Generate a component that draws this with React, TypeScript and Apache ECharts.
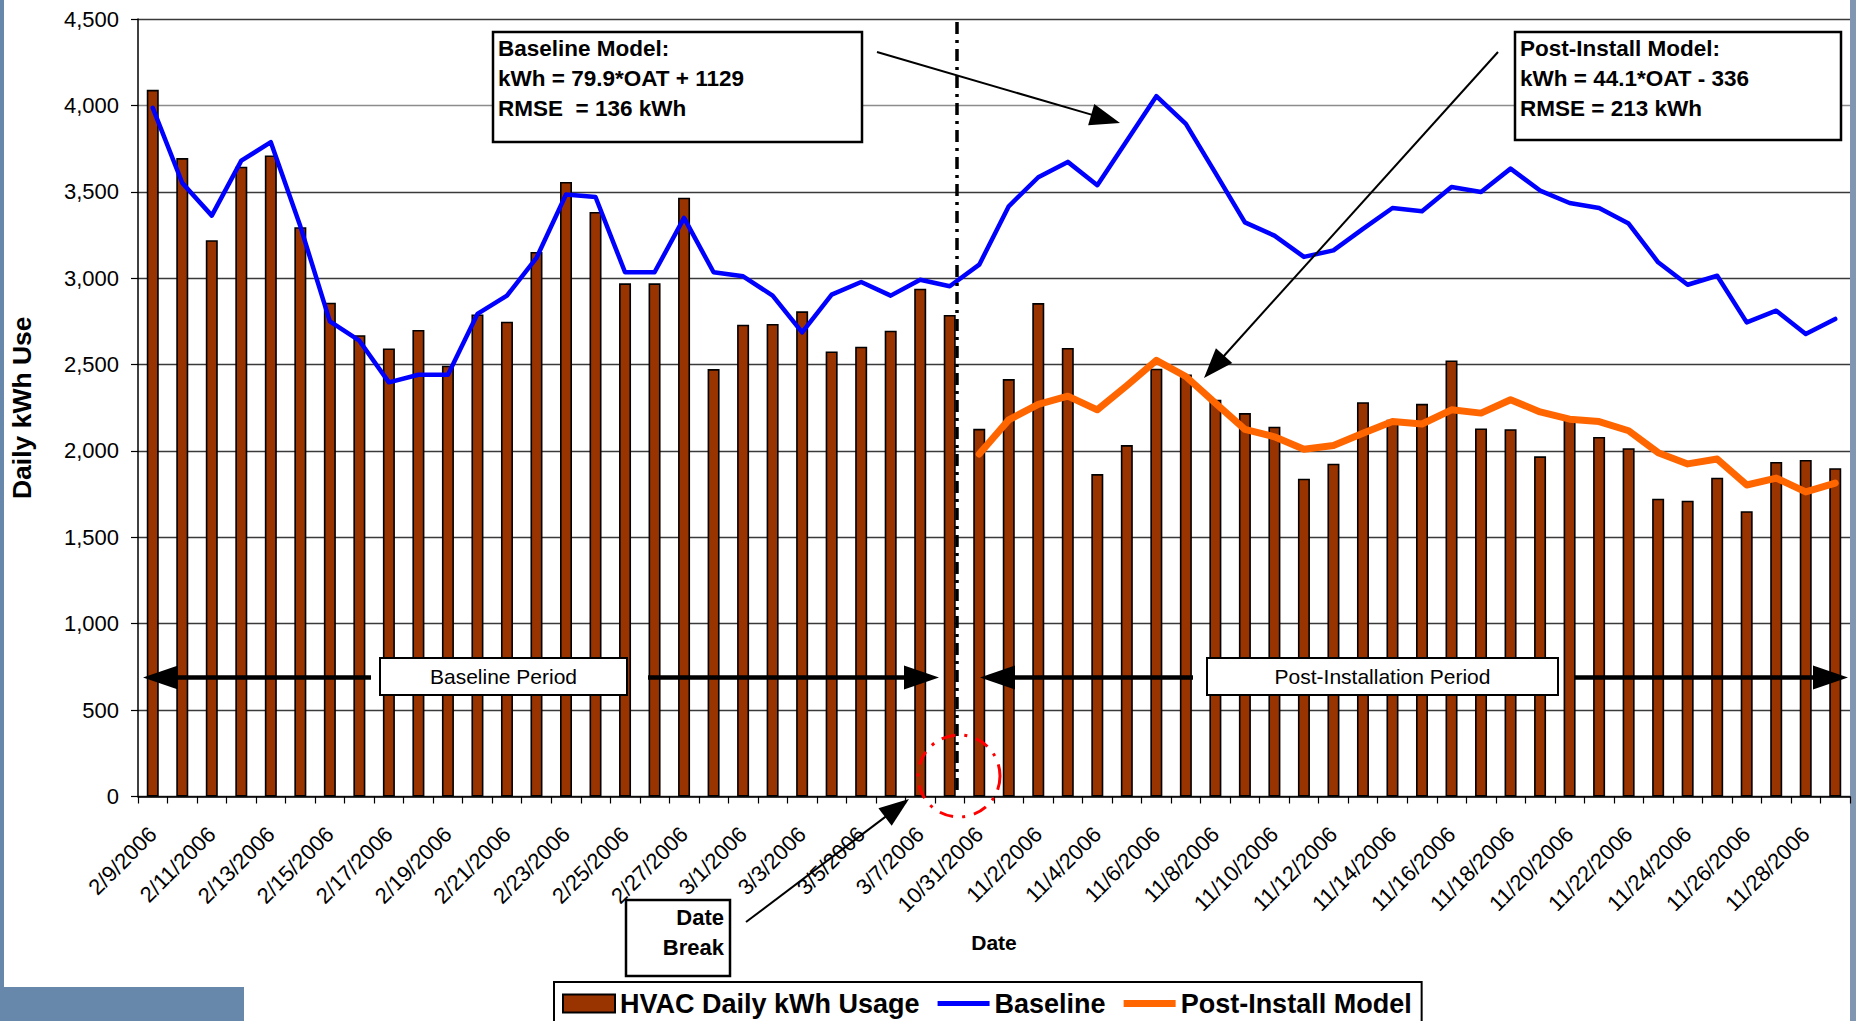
import React, { useEffect, useRef } from "react";
import * as echarts from "echarts";

const categories = [
  "2/9/2006", "2/10/2006", "2/11/2006", "2/12/2006", "2/13/2006", "2/14/2006", "2/15/2006", "2/16/2006",
  "2/17/2006", "2/18/2006", "2/19/2006", "2/20/2006", "2/21/2006", "2/22/2006", "2/23/2006", "2/24/2006",
  "2/25/2006", "2/26/2006", "2/27/2006", "2/28/2006", "3/1/2006", "3/2/2006", "3/3/2006", "3/4/2006",
  "3/5/2006", "3/6/2006", "3/7/2006", "3/8/2006",
  "10/31/2006", "11/1/2006", "11/2/2006", "11/3/2006", "11/4/2006", "11/5/2006", "11/6/2006", "11/7/2006",
  "11/8/2006", "11/9/2006", "11/10/2006", "11/11/2006", "11/12/2006", "11/13/2006", "11/14/2006", "11/15/2006",
  "11/16/2006", "11/17/2006", "11/18/2006", "11/19/2006", "11/20/2006", "11/21/2006", "11/22/2006", "11/23/2006",
  "11/24/2006", "11/25/2006", "11/26/2006", "11/27/2006", "11/28/2006", "11/29/2006",
];

const hvacUsage = [
  4090, 3695, 3220, 3645, 3710, 3295, 2858, 2670, 2593, 2700, 2493, 2790, 2748, 3152, 3557, 3383,
  2970, 2970, 3466, 2474, 2731, 2735, 2808, 2576, 2603, 2696, 2939, 2787,
  2128, 2416, 2856, 2596, 1866, 2034, 2476, 2442, 2296, 2219, 2140, 1839, 1926, 2282, 2181, 2273,
  2524, 2130, 2126, 1969, 2180, 2081, 2016, 1724, 1712, 1845, 1651, 1936, 1948, 1900,
];

const baselineModel = [
  3986, 3551, 3362, 3680, 3787, 3300, 2750, 2638, 2397, 2441, 2441, 2793, 2899, 3117, 3484, 3470,
  3034, 3034, 3349, 3034, 3011, 2899, 2686, 2905, 2978, 2899, 2991, 2953,
  3078, 3416, 3584, 3673, 3538, 3795, 4053, 3893, 3609, 3323, 3246, 3123, 3161, 3285, 3406, 3387,
  3528, 3499, 3634, 3507, 3435, 3406, 3316, 3092, 2962, 3014, 2744, 2812, 2677, 2764,
];

const postInstallModel = [
  null, null, null, null, null, null, null, null, null, null, null, null, null, null, null, null,
  null, null, null, null, null, null, null, null, null, null, null, null,
  1982, 2180, 2270, 2317, 2238, 2378, 2524, 2431, 2277, 2125, 2082, 2010, 2032, 2103, 2170, 2156,
  2238, 2219, 2296, 2226, 2184, 2170, 2117, 1990, 1925, 1953, 1803, 1843, 1763, 1814,
];

const seriesNames = ["HVAC Daily kWh Usage", "Baseline", "Post-Install Model"];
const yMin = 0;
const yMax = 4500;
const yStep = 500;

const baselineNote = ["Baseline Model:", "kWh = 79.9*OAT + 1129", "RMSE  = 136 kWh"];
const postNote = ["Post-Install Model:", "kWh = 44.1*OAT - 336", "RMSE = 213 kWh"];

const FONT = '"Liberation Sans", Arial, Helvetica, sans-serif';

function arrow(x1: number, y1: number, x2: number, y2: number, lw: number, headLen: number, headHalf: number) {
  const dx = x2 - x1;
  const dy = y2 - y1;
  const len = Math.hypot(dx, dy);
  const ux = dx / len;
  const uy = dy / len;
  const bx = x2 - ux * headLen;
  const by = y2 - uy * headLen;
  const px = -uy;
  const py = ux;
  return [
    {
      type: "line",
      z: 100,
      shape: { x1, y1, x2: bx + ux * 2, y2: by + uy * 2 },
      style: { stroke: "#000", lineWidth: lw },
    },
    {
      type: "polygon",
      z: 100,
      shape: {
        points: [
          [x2, y2],
          [bx + px * headHalf, by + py * headHalf],
          [bx - px * headHalf, by - py * headHalf],
        ],
      },
      style: { fill: "#000" },
    },
  ];
}

function noteBox(x: number, y: number, w: number, h: number, lines: string[]) {
  const els: any[] = [
    {
      type: "rect",
      z: 100,
      shape: { x, y, width: w, height: h },
      style: { fill: "#fff", stroke: "#000", lineWidth: 2.5 },
    },
  ];
  lines.forEach((t, i) => {
    els.push({
      type: "text",
      z: 101,
      x: x + 5,
      y: y + 16 + i * 30,
      style: {
        text: t,
        fontFamily: FONT,
        fontSize: 22.5,
        fontWeight: "bold",
        fill: "#000",
        align: "left",
        verticalAlign: "middle",
      },
    });
  });
  return els;
}

function periodBox(x: number, y: number, w: number, h: number, label: string) {
  return [
    {
      type: "rect",
      z: 100,
      shape: { x, y, width: w, height: h },
      style: { fill: "#fff", stroke: "#000", lineWidth: 2 },
    },
    {
      type: "text",
      z: 101,
      x: x + w / 2,
      y: y + h / 2,
      style: {
        text: label,
        fontFamily: FONT,
        fontSize: 21,
        fill: "#000",
        align: "center",
        verticalAlign: "middle",
      },
    },
  ];
}

export default function App() {
  const ref = useRef<HTMLDivElement>(null);

  useEffect(() => {
    if (!ref.current) return;
    const chart = echarts.init(ref.current, null, { renderer: "svg" });

    const splitColors: string[] = [];
    for (let v = yMin + yStep; v <= yMax; v += yStep) splitColors.push(v === yMax ? "#8c8c8c" : "#3a3a3a");

    const breakX = 957;
    const arrowY = 677.5;

    const graphics: any[] = [
      // slide background pieces
      { type: "rect", z: 0, shape: { x: 0, y: 0, width: 4, height: 1021 }, style: { fill: "#6788aa" } },
      { type: "rect", z: 0, shape: { x: 0, y: 987, width: 244, height: 34 }, style: { fill: "#6788aa" } },
      { type: "rect", z: 0, shape: { x: 1850, y: 0, width: 6, height: 1021 }, style: { fill: "#8196b0" } },
      // date break line
      {
        type: "line",
        z: 90,
        shape: { x1: breakX, y1: 22, x2: breakX, y2: 796 },
        style: { stroke: "#000", lineWidth: 3.5, lineDash: [12, 6, 3, 6] },
      },
      // red circle
      {
        type: "circle",
        z: 95,
        shape: { cx: breakX + 2, cy: 776, r: 41 },
        style: { fill: "none", stroke: "#ff0000", lineWidth: 3, lineDash: [14, 9, 3, 9] },
      },
      ...noteBox(493, 32, 369, 110, baselineNote),
      ...noteBox(1515, 32, 326, 108, postNote),
      ...arrow(877, 52, 1120, 123, 2, 30, 11),
      ...arrow(1498, 52, 1204, 378, 2, 30, 11),
      ...periodBox(380, 658, 247, 37, "Baseline Period"),
      ...periodBox(1207, 658, 351, 37, "Post-Installation Period"),
      ...arrow(371, arrowY, 143, arrowY, 4.5, 35, 12),
      ...arrow(648, arrowY, 939, arrowY, 4.5, 35, 12),
      ...arrow(1193, arrowY, 980, arrowY, 4.5, 35, 12),
      ...arrow(1574, arrowY, 1848, arrowY, 4.5, 35, 12),
      // date break box
      {
        type: "rect",
        z: 100,
        shape: { x: 626, y: 900, width: 104, height: 76 },
        style: { fill: "#fff", stroke: "#000", lineWidth: 2.5 },
      },
      {
        type: "text",
        z: 101,
        x: 724,
        y: 917,
        style: { text: "Date", fontFamily: FONT, fontSize: 22, fontWeight: "bold", fill: "#000", align: "right", verticalAlign: "middle" },
      },
      {
        type: "text",
        z: 101,
        x: 724,
        y: 947,
        style: { text: "Break", fontFamily: FONT, fontSize: 22, fontWeight: "bold", fill: "#000", align: "right", verticalAlign: "middle" },
      },
      ...arrow(746, 922, 909, 799, 2, 30, 11),
    ];

    chart.setOption({
      animation: false,
      backgroundColor: "#ffffff",
      textStyle: { fontFamily: FONT },
      grid: { left: 127.5, right: 6, top: 19, bottom: 224.5, containLabel: false },
      legend: {
        left: 554,
        top: 982,
        orient: "horizontal",
        itemWidth: 52,
        itemHeight: 18,
        itemGap: 18,
        padding: [8, 10, 14, 8],
        borderColor: "#000",
        borderWidth: 2,
        backgroundColor: "#fff",
        data: [
          { name: seriesNames[0], icon: "rect" },
          { name: seriesNames[1], icon: "path://M0,0H52V5H0Z" },
          { name: seriesNames[2], icon: "path://M0,0H56V7.5H0Z" },
        ],
        textStyle: { fontFamily: FONT, fontSize: 27, fontWeight: "bold", color: "#000" },
      },
      xAxis: {
        type: "category",
        data: categories,
        boundaryGap: true,
        name: "Date",
        nameLocation: "middle",
        nameGap: 135,
        nameTextStyle: { fontFamily: FONT, fontSize: 21, fontWeight: "bold", color: "#000" },
        axisLine: { lineStyle: { color: "#000", width: 1.5 } },
        axisTick: { show: true, interval: 0, alignWithLabel: false, length: 7, lineStyle: { color: "#000", width: 1.2 } },
        axisLabel: { interval: 1, rotate: 45, margin: 34, fontFamily: FONT, fontSize: 22, color: "#000" },
        splitLine: { show: false },
      },
      yAxis: {
        type: "value",
        min: yMin,
        max: yMax,
        interval: yStep,
        name: "Daily kWh Use",
        nameLocation: "middle",
        nameRotate: 90,
        nameGap: 103,
        nameTextStyle: { fontFamily: FONT, fontSize: 26.5, fontWeight: "bold", color: "#000" },
        axisLine: { show: true, lineStyle: { color: "#000", width: 1.5 } },
        axisTick: { show: true, length: 7, lineStyle: { color: "#000", width: 1.2 } },
        axisLabel: {
          margin: 19,
          fontFamily: FONT,
          fontSize: 22,
          color: "#000",
          formatter: (v: number) => v.toLocaleString("en-US"),
        },
        splitLine: { show: true, lineStyle: { color: splitColors, width: 1.3 } },
      },
      series: [
        {
          name: seriesNames[0],
          type: "bar",
          data: hvacUsage,
          barWidth: 12,
          itemStyle: { color: "#993300", borderColor: "#000", borderWidth: 1.6 },
          z: 2,
        },
        {
          name: seriesNames[1],
          type: "line",
          data: baselineModel,
          symbol: "none",
          lineStyle: { color: "#0000ff", width: 4.5, cap: "round", join: "round" },
          itemStyle: { color: "#0000ff" },
          z: 3,
        },
        {
          name: seriesNames[2],
          type: "line",
          data: postInstallModel,
          symbol: "none",
          connectNulls: false,
          lineStyle: { color: "#ff6600", width: 7, cap: "round", join: "round" },
          itemStyle: { color: "#ff6600" },
          z: 4,
        },
      ],
      graphic: graphics,
    });

    return () => {
      chart.dispose();
    };
  }, []);

  return (
    <div
      ref={ref}
      style={{ position: "fixed", left: 0, top: 0, width: 1856, height: 1021, background: "#fff" }}
    />
  );
}
